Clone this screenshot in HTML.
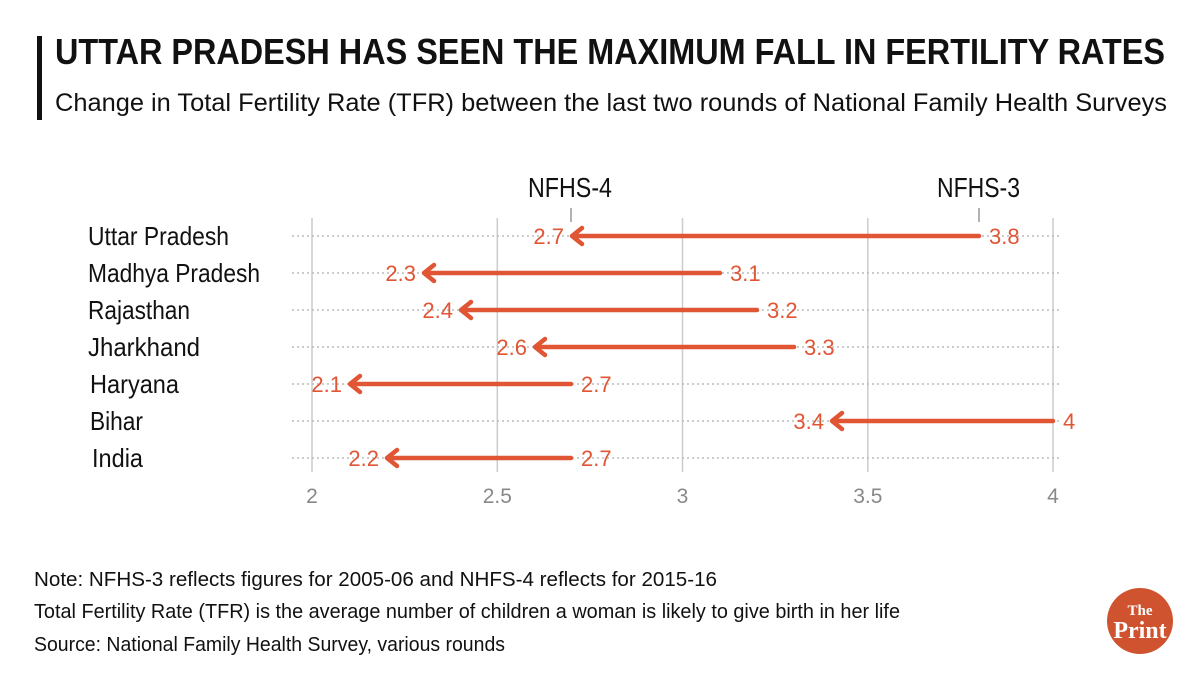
<!DOCTYPE html>
<html><head><meta charset="utf-8"><style>
html,body{margin:0;padding:0;background:#fff;}
svg{display:block;}
</style></head><body>
<svg width="1200" height="675" viewBox="0 0 1200 675" xmlns="http://www.w3.org/2000/svg" font-family="Liberation Sans,sans-serif">
<rect width="1200" height="675" fill="#fff"/>
<rect x="37" y="36" width="5" height="84" fill="#111"/>
<text x="55" y="64" font-size="36" font-weight="bold" fill="#111" textLength="1110" lengthAdjust="spacingAndGlyphs">UTTAR PRADESH HAS SEEN THE MAXIMUM FALL IN FERTILITY RATES</text>
<text x="55" y="111" font-size="25" fill="#111" textLength="1112" lengthAdjust="spacingAndGlyphs">Change in Total Fertility Rate (TFR) between the last two rounds of National Family Health Surveys</text>

<g stroke="#ccc" stroke-width="1.5">
<line x1="312" y1="218" x2="312" y2="472"/><line x1="497.3" y1="218" x2="497.3" y2="472"/>
<line x1="682.5" y1="218" x2="682.5" y2="472"/><line x1="867.8" y1="218" x2="867.8" y2="472"/>
<line x1="1053" y1="218" x2="1053" y2="472"/>
</g>
<g stroke="#bbb" stroke-width="1.5" stroke-dasharray="2,3">
<line x1="292" y1="236" x2="1060" y2="236"/><line x1="292" y1="273" x2="1060" y2="273"/>
<line x1="292" y1="310" x2="1060" y2="310"/><line x1="292" y1="347" x2="1060" y2="347"/>
<line x1="292" y1="384" x2="1060" y2="384"/><line x1="292" y1="421" x2="1060" y2="421"/>
<line x1="292" y1="458" x2="1060" y2="458"/>
</g>
<g font-size="21" fill="#888" text-anchor="middle">
<text x="312" y="503">2</text><text x="497.3" y="503">2.5</text><text x="682.5" y="503">3</text><text x="867.8" y="503">3.5</text><text x="1053" y="503">4</text>
</g>
<text x="528" y="197" font-size="28" fill="#111" textLength="84" lengthAdjust="spacingAndGlyphs">NFHS-4</text>
<text x="937" y="197" font-size="28" fill="#111" textLength="83" lengthAdjust="spacingAndGlyphs">NFHS-3</text>
<line x1="571" y1="208" x2="571" y2="222" stroke="#999" stroke-width="1.5"/>
<line x1="979" y1="208" x2="979" y2="222" stroke="#999" stroke-width="1.5"/>

<g font-size="26" fill="#111" lengthAdjust="spacingAndGlyphs">
<text x="88" y="245" textLength="141" lengthAdjust="spacingAndGlyphs">Uttar Pradesh</text>
<text x="88" y="282" textLength="172" lengthAdjust="spacingAndGlyphs">Madhya Pradesh</text>
<text x="88" y="319" textLength="102" lengthAdjust="spacingAndGlyphs">Rajasthan</text>
<text x="88" y="356" textLength="112" lengthAdjust="spacingAndGlyphs">Jharkhand</text>
<text x="90" y="393" textLength="89" lengthAdjust="spacingAndGlyphs">Haryana</text>
<text x="90" y="430" textLength="53" lengthAdjust="spacingAndGlyphs">Bihar</text>
<text x="92" y="467" textLength="51" lengthAdjust="spacingAndGlyphs">India</text>
</g>

<g stroke="#e05534" stroke-width="4.5" fill="none" stroke-linecap="round" stroke-linejoin="round">
<path d="M979 236H573M582 228L572 236L582 244"/>
<path d="M720 273H425M434 265L424 273L434 281"/>
<path d="M757 310H462M471 302L461 310L471 318"/>
<path d="M794 347H536M545 339L535 347L545 355"/>
<path d="M571 384H351M360 376L350 384L360 392"/>
<path d="M1053 421H833M842 413L832 421L842 429"/>
<path d="M571 458H388M397 450L387 458L397 466"/>
</g>
<g font-size="22" fill="#e05534">
<g text-anchor="end">
<text x="564" y="244">2.7</text><text x="416" y="281">2.3</text><text x="453" y="318">2.4</text>
<text x="527" y="355">2.6</text><text x="342" y="392">2.1</text><text x="824" y="429">3.4</text><text x="379" y="466">2.2</text>
</g>
<text x="989" y="244">3.8</text><text x="730" y="281">3.1</text><text x="767" y="318">3.2</text>
<text x="804" y="355">3.3</text><text x="581" y="392">2.7</text><text x="1063" y="429">4</text><text x="581" y="466">2.7</text>
</g>

<g font-size="20" fill="#111">
<text x="34" y="586" textLength="683" lengthAdjust="spacingAndGlyphs">Note: NFHS-3 reflects figures for 2005-06 and NHFS-4 reflects for 2015-16</text>
<text x="34" y="618" textLength="866" lengthAdjust="spacingAndGlyphs">Total Fertility Rate (TFR) is the average number of children a woman is likely to give birth in her life</text>
<text x="34" y="651" textLength="471" lengthAdjust="spacingAndGlyphs">Source: National Family Health Survey, various rounds</text>
</g>
<circle cx="1140" cy="621" r="33" fill="#d0532f"/>
<text x="1140" y="615" font-size="15" fill="#fff" text-anchor="middle" font-family="Liberation Serif,serif" font-weight="bold">The</text>
<text x="1140" y="638" font-size="24" fill="#fff" text-anchor="middle" font-family="Liberation Serif,serif" font-weight="bold">Print</text>
</svg>
</body></html>
